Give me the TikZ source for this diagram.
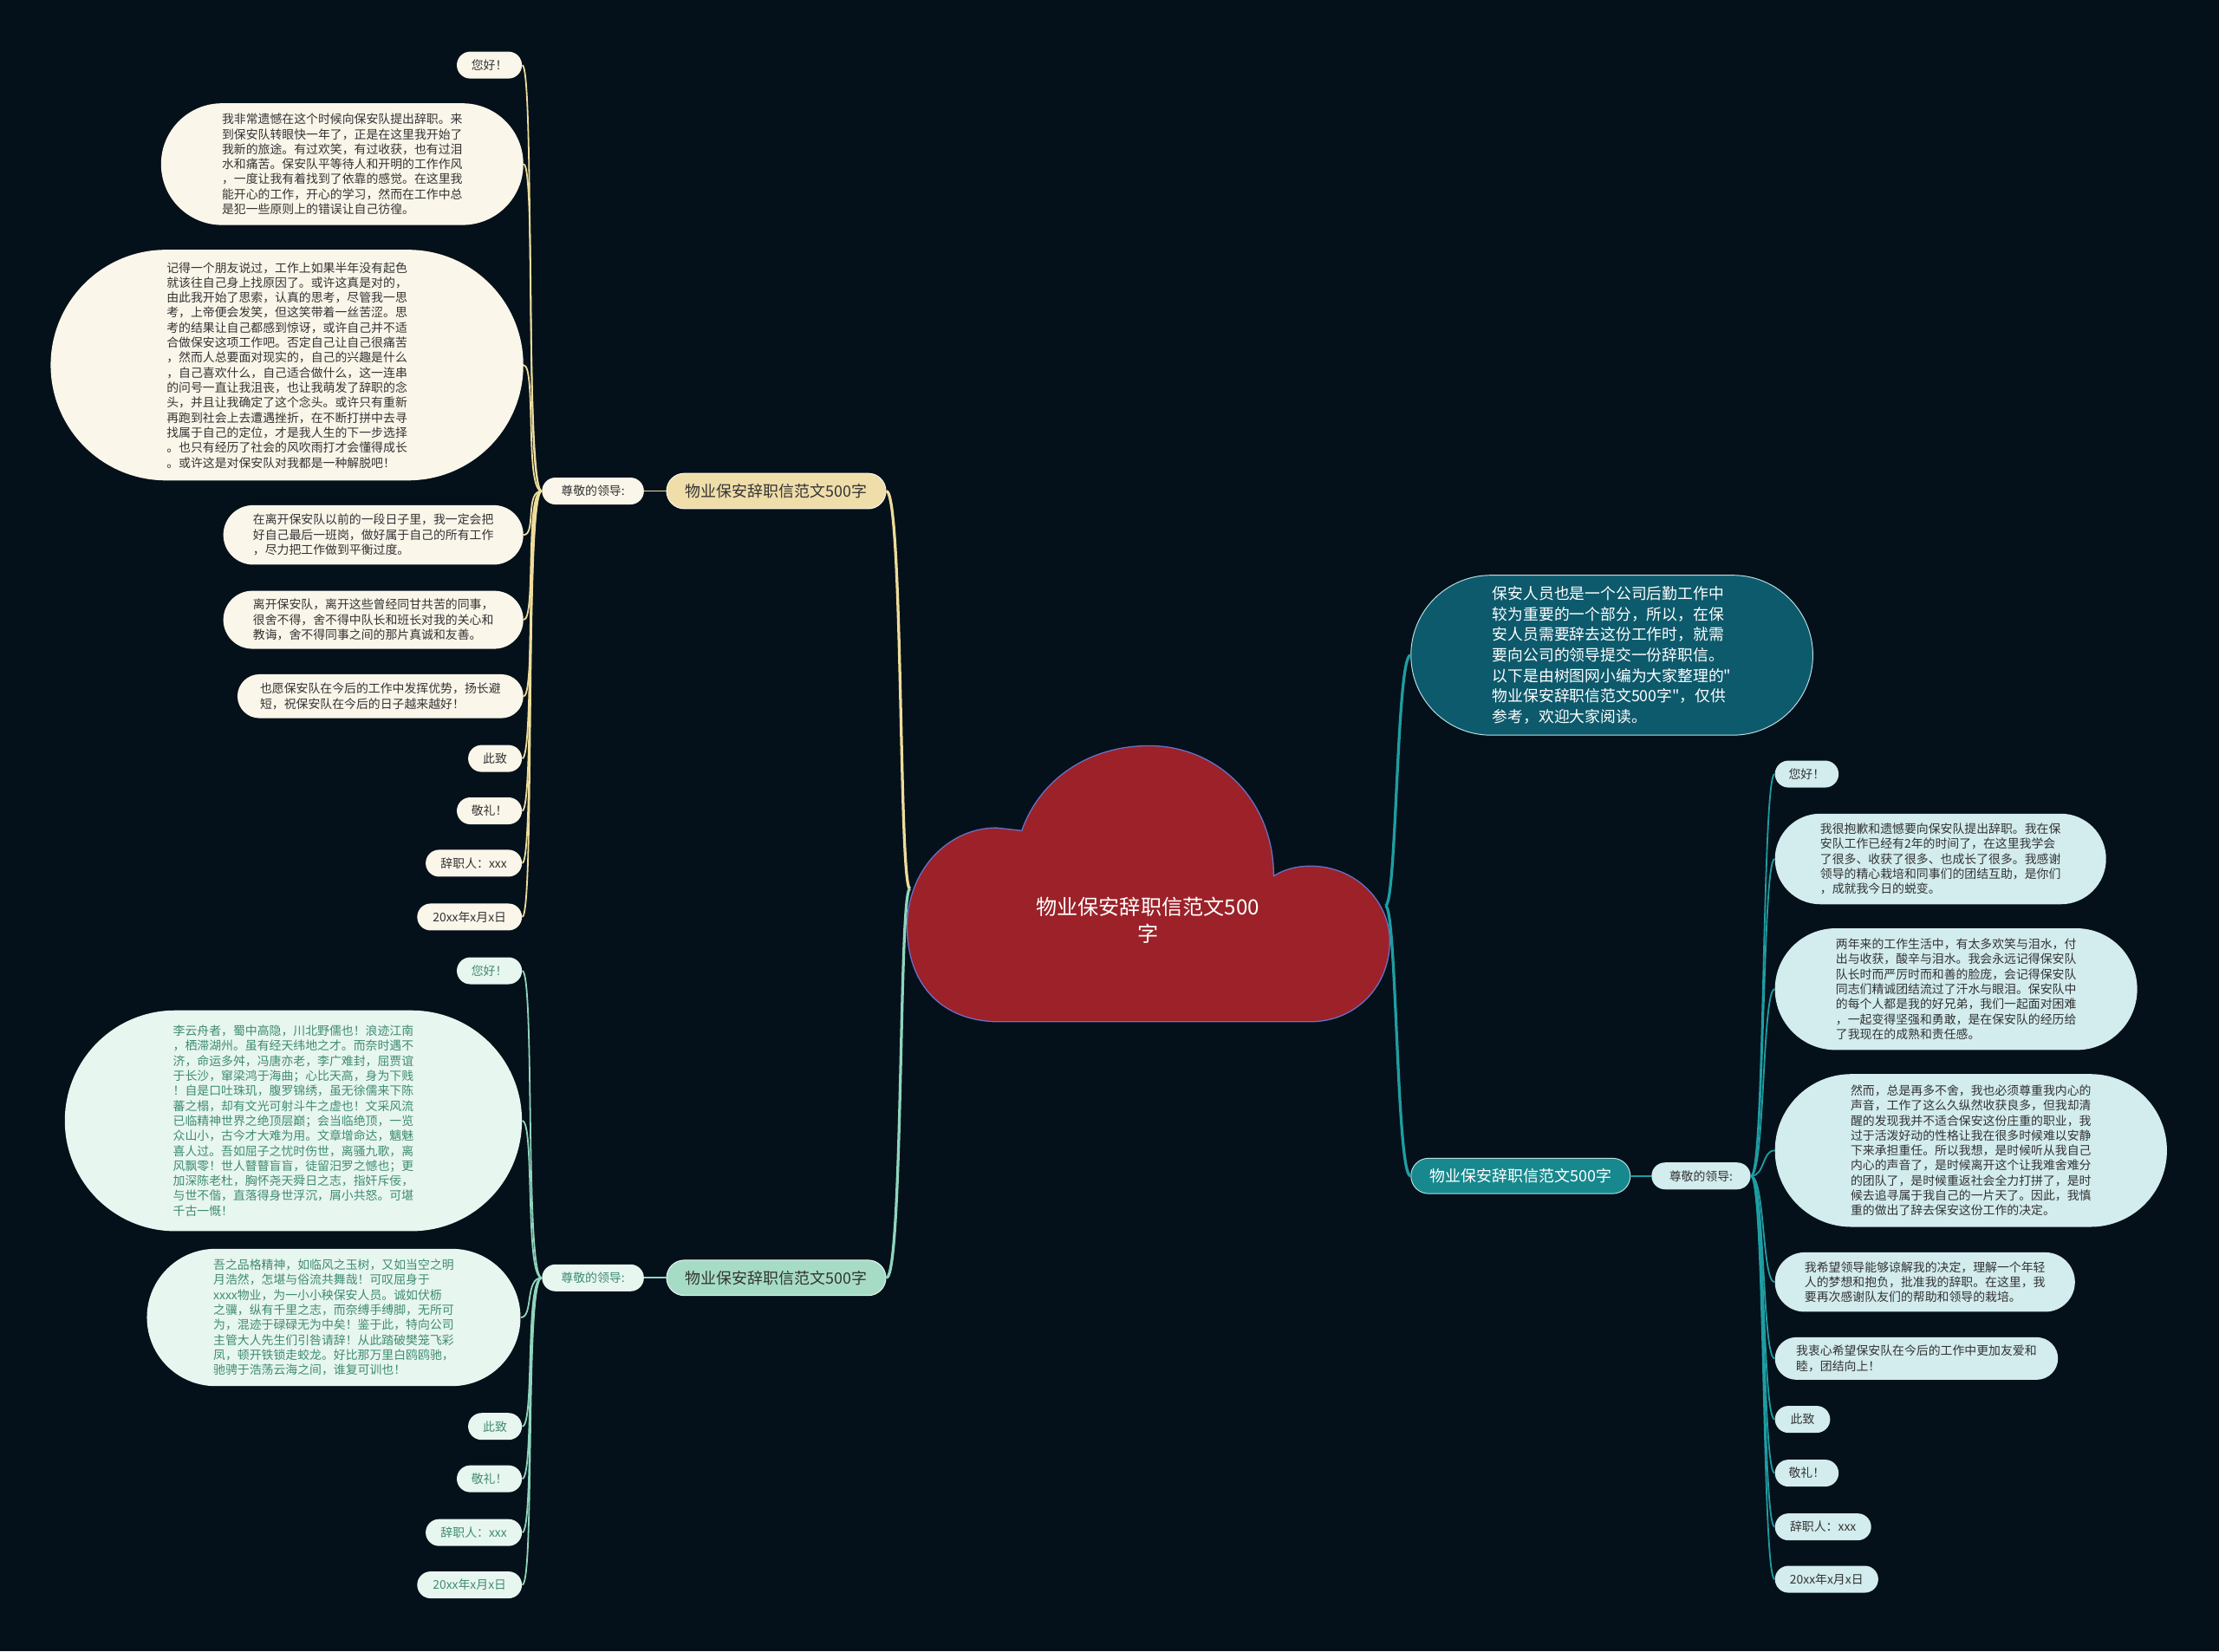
\documentclass[tikz,border=0pt]{standalone}
\usepackage{fontspec}
\setmainfont{Noto Sans CJK SC}
\newfontfamily\plaincjk{Noto Sans CJK SC}
\usepackage{tikz}
\usetikzlibrary{calc}

\definecolor{bgdark}{HTML}{05111A}
\definecolor{cloudred}{HTML}{9C2128}
\definecolor{cloudedge}{HTML}{6B6FC4}
\definecolor{sandfill}{HTML}{EFDDAA}
\definecolor{sandpale}{HTML}{FBF6EA}
\definecolor{sandink}{HTML}{EDDC9C}
\definecolor{mintfill}{HTML}{A6DCC5}
\definecolor{mintpale}{HTML}{E8F6F0}
\definecolor{mintink}{HTML}{8FD5BD}
\definecolor{mintdark}{HTML}{3E8C72}
\definecolor{icepale}{HTML}{D3ECEE}
\definecolor{tealfill}{HTML}{17898E}
\definecolor{tealdeep}{HTML}{0D5A6C}
\definecolor{tealink}{HTML}{1E9EA3}
\definecolor{edgelight}{HTML}{B9DFE2}
\definecolor{inkgray}{HTML}{333333}

\tikzset{
    pill/.style 2 args={minimum width=#1pt, minimum height=#2pt, rounded corners=#2pt/2},
    leaf/.style={font=\fontsize{8.5}{10.6}\selectfont, align=left, inner sep=0pt},
    sandleaf/.style={leaf, fill=sandpale, text=inkgray},
    mintleaf/.style={leaf, fill=mintpale, text=mintdark},
    iceleaf/.style={leaf, fill=icepale, text=inkgray},
    branch/.style={font=\fontsize{11}{13}\selectfont, inner sep=0pt, draw, line width=0.6pt, pill={155}{25}},
    sandlink/.style={draw=sandink, line width=1.1pt},
    mintlink/.style={draw=mintink, line width=1.1pt},
    teallink/.style={draw=tealink, line width=1.1pt}
}

\begin{document}
\begin{tikzpicture}[x=1pt, y=-1pt]
    \fill[bgdark] (0,0) rectangle (1568,1167);
    \useasboundingbox (0,0) rectangle (1568,1167);

    % central cloud
    \draw[fill=cloudred, draw=cloudedge, line width=0.8pt]
        (706,722) .. controls (665,722) and (641,695) .. (641,655)
        .. controls (641,615) and (670,585) .. (704,585)
        -- (722,587)
        .. controls (735,550) and (770,527) .. (812,527)
        .. controls (860,527) and (900,565) .. (900,619)
        .. controls (908,614) and (917,612) .. (926,612)
        .. controls (958,612) and (982,637) .. (982,665)
        .. controls (982,697) and (958,722) .. (926,722)
        -- cycle;
    \node[font=\fontsize{14.8}{19}\selectfont, text=white, align=center] (title) at (811,650)
        {物业保安辞职信范文500\\字};
    \coordinate (cl) at (643,628);
    \coordinate (cr) at (979,640);

    % left upper branch
    \node[branch, fill=sandfill, draw=sandpale, text=inkgray] (br1) at (548.5,347) {物业保安辞职信范文500字};
    \node[sandleaf, pill={72}{19}] (lead1) at (419,347) {尊敬的领导:};
    \node[sandleaf, pill={46}{19}, anchor=east] (a1) at (369,46) {您好！};
    \node[sandleaf, pill={256}{86}, anchor=east] (a2) at (370,116)
        {我非常遗憾在这个时候向保安队提出辞职。来\\到保安队转眼快一年了，正是在这里我开始了\\我新的旅途。有过欢笑，有过收获，也有过泪\\水和痛苦。保安队平等待人和开明的工作作风\\，一度让我有着找到了依靠的感觉。在这里我\\能开心的工作，开心的学习，然而在工作中总\\是犯一些原则上的错误让自己彷徨。};
    \node[sandleaf, pill={334}{163}, anchor=east] (a3) at (370,258)
        {记得一个朋友说过，工作上如果半年没有起色\\就该往自己身上找原因了。或许这真是对的，\\由此我开始了思索，认真的思考，尽管我一思\\考，上帝便会发笑，但这笑带着一丝苦涩。思\\考的结果让自己都感到惊讶，或许自己并不适\\合做保安这项工作吧。否定自己让自己很痛苦\\，然而人总要面对现实的，自己的兴趣是什么\\，自己喜欢什么，自己适合做什么，这一连串\\的问号一直让我沮丧，也让我萌发了辞职的念\\头，并且让我确定了这个念头。或许只有重新\\再跑到社会上去遭遇挫折，在不断打拼中去寻\\找属于自己的定位，才是我人生的下一步选择\\。也只有经历了社会的风吹雨打才会懂得成长\\。或许这是对保安队对我都是一种解脱吧！};
    \node[sandleaf, pill={212}{42}, anchor=east] (a4) at (370,378)
        {在离开保安队以前的一段日子里，我一定会把\\好自己最后一班岗，做好属于自己的所有工作\\，尽力把工作做到平衡过度。};
    \node[sandleaf, pill={212}{41}, anchor=east] (a5) at (370,438)
        {离开保安队，离开这些曾经同甘共苦的同事，\\很舍不得，舍不得中队长和班长对我的关心和\\教诲，舍不得同事之间的那片真诚和友善。};
    \node[sandleaf, pill={202}{31}, anchor=east] (a6) at (370,492)
        {也愿保安队在今后的工作中发挥优势，扬长避\\短，祝保安队在今后的日子越来越好！};
    \node[sandleaf, pill={38}{19}, anchor=east] (a7) at (369,536) {此致};
    \node[sandleaf, pill={46}{19}, anchor=east] (a8) at (369,573) {敬礼！};
    \node[sandleaf, pill={68}{19}, anchor=east] (a9) at (369,610) {辞职人：xxx};
    \node[sandleaf, pill={74}{19}, anchor=east] (a10) at (369,648) {20xx年x月x日};

    % left lower branch
    \node[branch, fill=mintfill, draw=mintpale, text=inkgray] (br2) at (548.5,903) {物业保安辞职信范文500字};
    \node[mintleaf, pill={72}{19}] (lead2) at (419,903) {尊敬的领导:};
    \node[mintleaf, pill={46}{19}, anchor=east] (c1) at (369,686) {您好！};
    \node[mintleaf, pill={323}{156}, anchor=east] (c2) at (369,792)
        {李云舟者，蜀中高隐，川北野儒也！浪迹江南\\，栖滞湖州。虽有经天纬地之才。而奈时遇不\\济，命运多舛，冯唐亦老，李广难封，屈贾谊\\于长沙，窜梁鸿于海曲；心比天高，身为下贱\\！自是口吐珠玑，腹罗锦绣，虽无徐儒来下陈\\蕃之榻，却有文光可射斗牛之虚也！文采风流\\已临精神世界之绝顶层巅；会当临绝顶，一览\\众山小，古今才大难为用。文章增命达，魑魅\\喜人过。吾如屈子之忧时伤世，离骚九歌，离\\风飘零！世人瞽瞽盲盲，徒留汨罗之憾也；更\\加深陈老杜，胸怀尧天舜日之志，指奸斥佞，\\与世不偕，直落得身世浮沉，屑小共怒。可堪\\千古一慨！};
    \node[mintleaf, pill={264}{97}, anchor=east] (c3) at (368,931)
        {吾之品格精神，如临风之玉树，又如当空之明\\月浩然，怎堪与俗流共舞哉！可叹屈身于\\xxxx物业，为一小小秧保安人员。诚如伏枥\\之骥，纵有千里之志，而奈缚手缚脚，无所可\\为，混迹于碌碌无为中矣！鉴于此，特向公司\\主管大人先生们引咎请辞！从此踏破樊笼飞彩\\凤，顿开铁锁走蛟龙。好比那万里白鸥鸥驰，\\驰骋于浩荡云海之间，谁复可训也！};
    \node[mintleaf, pill={38}{19}, anchor=east] (c4) at (369,1008) {此致};
    \node[mintleaf, pill={46}{19}, anchor=east] (c5) at (369,1045) {敬礼！};
    \node[mintleaf, pill={68}{19}, anchor=east] (c6) at (369,1083) {辞职人：xxx};
    \node[mintleaf, pill={74}{19}, anchor=east] (c7) at (369,1120) {20xx年x月x日};

    % right side
    \node[font=\plaincjk\fontsize{10.9}{14.5}\selectfont, align=left, inner sep=0pt, text=white,
          fill=tealdeep, draw=edgelight, line width=0.6pt, pill={284}{113}] (intro) at (1139,463)
        {保安人员也是一个公司后勤工作中\\较为重要的一个部分，所以，在保\\安人员需要辞去这份工作时，就需\\要向公司的领导提交一份辞职信。\\以下是由树图网小编为大家整理的"\\物业保安辞职信范文500字"，仅供\\参考，欢迎大家阅读。};
    \node[branch, fill=tealfill, draw=edgelight, text=white] (rbr) at (1074.5,831) {物业保安辞职信范文500字};
    \node[iceleaf, pill={70}{19}] (rlead) at (1202,831) {尊敬的领导:};
    \node[iceleaf, pill={45}{19}, anchor=west] (b1) at (1254,547) {您好！};
    \node[iceleaf, pill={234}{64}, anchor=west] (b2) at (1254,607)
        {我很抱歉和遗憾要向保安队提出辞职。我在保\\安队工作已经有2年的时间了，在这里我学会\\了很多、收获了很多、也成长了很多。我感谢\\领导的精心栽培和同事们的团结互助，是你们\\，成就我今日的蜕变。};
    \node[iceleaf, pill={256}{86}, anchor=west] (b3) at (1254,699)
        {两年来的工作生活中，有太多欢笑与泪水，付\\出与收获，酸辛与泪水。我会永远记得保安队\\队长时而严厉时而和善的脸庞，会记得保安队\\同志们精诚团结流过了汗水与眼泪。保安队中\\的每个人都是我的好兄弟，我们一起面对困难\\，一起变得坚强和勇敢，是在保安队的经历给\\了我现在的成熟和责任感。};
    \node[iceleaf, pill={277}{108}, anchor=west] (b4) at (1254,813)
        {然而，总是再多不舍，我也必须尊重我内心的\\声音，工作了这么久纵然收获良多，但我却清\\醒的发现我并不适合保安这份庄重的职业，我\\过于活泼好动的性格让我在很多时候难以安静\\下来承担重任。所以我想，是时候听从我自己\\内心的声音了，是时候离开这个让我难舍难分\\的团队了，是时候重返社会全力打拼了，是时\\候去追寻属于我自己的一片天了。因此，我慎\\重的做出了辞去保安这份工作的决定。};
    \node[iceleaf, pill={212}{42}, anchor=west] (b5) at (1254,906)
        {我希望领导能够谅解我的决定，理解一个年轻\\人的梦想和抱负，批准我的辞职。在这里，我\\要再次感谢队友们的帮助和领导的栽培。};
    \node[iceleaf, pill={200}{30}, anchor=west] (b6) at (1254,960)
        {我衷心希望保安队在今后的工作中更加友爱和\\睦，团结向上！};
    \node[iceleaf, pill={39}{19}, anchor=west] (b7) at (1254,1003) {此致};
    \node[iceleaf, pill={45}{19}, anchor=west] (b8) at (1254,1041) {敬礼！};
    \node[iceleaf, pill={68}{19}, anchor=west] (b9) at (1254,1079) {辞职人：xxx};
    \node[iceleaf, pill={73}{19}, anchor=west] (b10) at (1254,1116) {20xx年x月x日};

    % connectors from the cloud
    \draw[sandlink, line width=2pt] (cl) .. controls ([xshift=-8pt]cl) and ([xshift=12pt]br1.east) .. (br1.east);
    \draw[mintlink, line width=2pt] (cl) .. controls ([xshift=-8pt]cl) and ([xshift=12pt]br2.east) .. (br2.east);
    \draw[teallink, line width=2pt] (cr) .. controls ([xshift=8pt]cr) and ([xshift=-10pt]intro.west) .. (intro.west);
    \draw[teallink, line width=2pt] (cr) .. controls ([xshift=8pt]cr) and ([xshift=-10pt]rbr.west) .. (rbr.west);
    \draw[sandlink] (br1.west) -- (lead1.east);
    \draw[mintlink] (br2.west) -- (lead2.east);
    \draw[teallink] (rbr.east) -- (rlead.west);

    % connectors to the leaves
    \foreach \i in {1,...,10}
        \draw[sandlink] (lead1.west) .. controls ([xshift=-12pt]lead1.west) and ([xshift=9pt]a\i.east) .. (a\i.east);
    \foreach \i in {1,...,7}
        \draw[mintlink] (lead2.west) .. controls ([xshift=-12pt]lead2.west) and ([xshift=9pt]c\i.east) .. (c\i.east);
    \foreach \i in {1,...,10}
        \draw[teallink] (rlead.east) .. controls ([xshift=10pt]rlead.east) and ([xshift=-9pt]b\i.west) .. (b\i.west);
\end{tikzpicture}
\end{document}
